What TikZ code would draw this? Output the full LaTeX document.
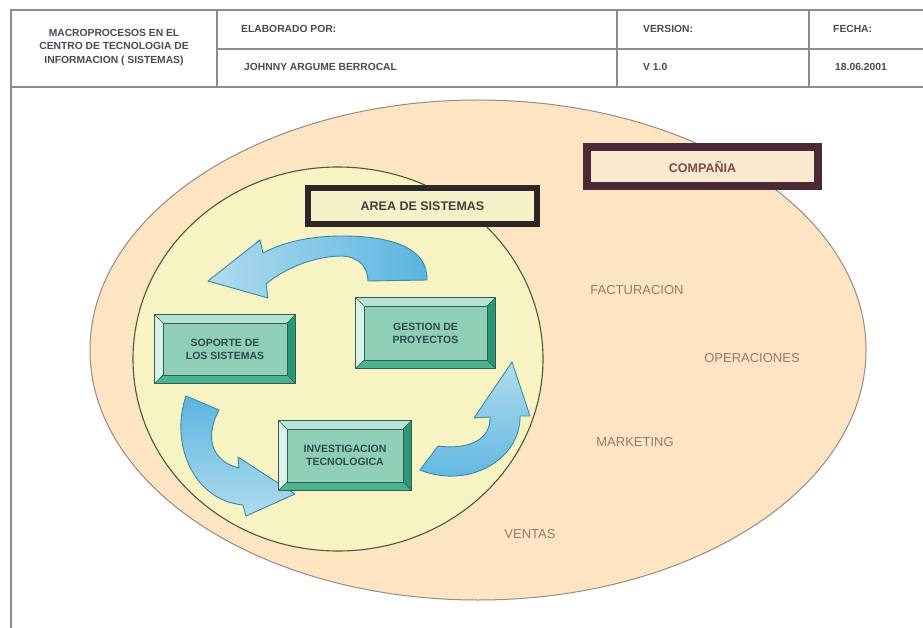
\documentclass[tikz,border=0pt]{standalone}
\usepackage{fontspec}
\setmainfont{Liberation Sans}
\usetikzlibrary{calc}

\definecolor{gridgray}{HTML}{8C8C8C}
\definecolor{hdrtext}{HTML}{4A4A58}
\definecolor{peach}{HTML}{FDE4C2}
\definecolor{peachline}{HTML}{9A8A80}
\definecolor{paleyellow}{HTML}{F7F3C2}
\definecolor{olive}{HTML}{4D5A3A}
\definecolor{labelbrown}{HTML}{A27862}
\definecolor{areaborder}{HTML}{2E2626}
\definecolor{areafill}{HTML}{F6F1C8}
\definecolor{compborder}{HTML}{4B2A36}
\definecolor{compfill}{HTML}{FBE9CF}
\definecolor{comptext}{HTML}{7E4A4A}
\definecolor{tealface}{HTML}{8FCFB6}
\definecolor{bevtop}{HTML}{B6E4D4}
\definecolor{bevleft}{HTML}{DAF2EA}
\definecolor{bevright}{HTML}{2A9878}
\definecolor{bevbottom}{HTML}{4BB392}
\definecolor{tealline}{HTML}{2F5F50}
\definecolor{tealtext}{HTML}{304850}
\definecolor{arrowlight}{HTML}{B0DCEE}
\definecolor{arrowdark}{HTML}{5AB4E0}
\definecolor{arrowline}{HTML}{3A8AA0}

% bevelled frame drawn around a named rectangular node
\newcommand\bevelframe[1]{%
  \fill[bevtop] (#1.north west) -- (#1.north east) -- ($(#1.north east)+(-8,8)$) -- ($(#1.north west)+(8,8)$) -- cycle;
  \fill[bevleft] (#1.north west) -- (#1.south west) -- ($(#1.south west)+(8,-8)$) -- ($(#1.north west)+(8,8)$) -- cycle;
  \fill[bevright] (#1.north east) -- (#1.south east) -- ($(#1.south east)+(-8,-8)$) -- ($(#1.north east)+(-8,8)$) -- cycle;
  \fill[bevbottom] (#1.south west) -- (#1.south east) -- ($(#1.south east)+(-8,-8)$) -- ($(#1.south west)+(8,-8)$) -- cycle;
  \draw[tealline, line width=0.8pt] (#1.north west) rectangle (#1.south east);
  \draw[tealline, line width=0.6pt] ($(#1.north west)+(8,8)$) rectangle ($(#1.south east)+(-8,-8)$);
  \draw[tealline, line width=0.5pt] (#1.north west) -- ($(#1.north west)+(8,8)$)
     (#1.north east) -- ($(#1.north east)+(-8,8)$)
     (#1.south east) -- ($(#1.south east)+(-8,-8)$)
     (#1.south west) -- ($(#1.south west)+(8,-8)$);
}

\begin{document}
\begin{tikzpicture}[x=1pt, y=-1pt,
  gridline/.style={draw=gridgray, line width=1.3pt},
  hdr/.style={font=\fontsize{10.3}{13.5}\selectfont\bfseries, text=hdrtext, inner sep=0pt},
  zonelabel/.style={font=\fontsize{13}{15}\selectfont, text=labelbrown, inner sep=0pt},
  tealbox/.style={fill=tealface, inner sep=0pt, align=center,
    font=\fontsize{10.5}{13}\selectfont\bfseries, text=tealtext},
  cyclearrow/.style={draw=arrowline, line width=0.9pt, line join=round}]

\useasboundingbox (0,0) rectangle (923,628);
\fill[white] (0,0) rectangle (923,628);

% header grid
\draw[gridline] (11,628) -- (11,10) -- (923,10);
\draw[gridline] (11,87) -- (923,87);
\draw[gridline] (217,10) -- (217,87);
\draw[gridline] (617,10) -- (617,87);
\draw[gridline] (809,10) -- (809,87);
\draw[gridline] (217,49) -- (923,49);

% header texts
\node[hdr, align=center] (titulo) at (114,47) {MACROPROCESOS EN EL\\CENTRO DE TECNOLOGIA DE\\INFORMACION ( SISTEMAS)};
\node[hdr, anchor=west] (elab) at (241,29) {ELABORADO POR:};
\node[hdr, anchor=west] (autor) at (244,67) {JOHNNY ARGUME BERROCAL};
\node[hdr, anchor=west] (version) at (643,29) {VERSION:};
\node[hdr, anchor=west] (vernum) at (643,67) {V 1.0};
\node[hdr, anchor=west] (fecha) at (833,29) {FECHA:};
\node[hdr, anchor=west] (fechaval) at (835,67) {18.06.2001};

% company and systems area
\draw[fill=peach, draw=peachline, line width=1pt] (478,350) ellipse[x radius=388, y radius=250];
\draw[fill=paleyellow, draw=olive, line width=1.1pt] (338,359) ellipse[x radius=205, y radius=192];

% zone labels
\node[zonelabel] (fact) at (637,290) {FACTURACION};
\node[zonelabel] (oper) at (752,358) {OPERACIONES};
\node[zonelabel] (mark) at (635,442) {MARKETING};
\node[zonelabel] (vent) at (530,534) {VENTAS};

% title boxes
\node[draw=areaborder, line width=6pt, fill=areafill, minimum width=229pt, minimum height=36pt,
  inner sep=0pt, font=\fontsize{12.5}{14}\selectfont\bfseries, text=black!75] (area) at (422.5,206) {AREA DE SISTEMAS};
\node[draw=compborder, line width=8pt, fill=compfill, minimum width=231pt, minimum height=39pt,
  inner sep=0pt, font=\fontsize{12.5}{14}\selectfont\bfseries, text=comptext] (compania) at (702.5,166.5) {COMPAÑIA};

% cycle arrows
\path[cyclearrow, left color=arrowlight, right color=arrowdark]
  (427,280) .. controls (428,248) and (392,236) .. (342,236)
  .. controls (305,236) and (280,244) .. (263,253)
  -- (260,240) -- (208,281) -- (268,298) -- (266,284)
  .. controls (285,268) and (315,256) .. (342,256)
  .. controls (360,257) and (368,268) .. (368,281) -- cycle;
\path[cyclearrow, top color=arrowdark, bottom color=arrowlight]
  (186,396) .. controls (170,442) and (192,500) .. (243,505)
  -- (246,516) -- (295,494) -- (238,457) -- (239,468)
  .. controls (214,462) and (203,440) .. (219,410) -- cycle;
\path[cyclearrow, top color=arrowlight, bottom color=arrowdark]
  (420,470) .. controls (470,490) and (521,458) .. (520,416)
  -- (530,416) -- (512,362) -- (474,418) -- (490,417)
  .. controls (491,440) and (468,450) .. (438,446) -- cycle;

% process boxes
\node[tealbox, minimum width=140pt, minimum height=68pt] (soporte) at (225,349) {SOPORTE DE\\LOS SISTEMAS};
\bevelframe{soporte}
\node[tealbox, minimum width=139pt, minimum height=70pt] (gestion) at (425.5,333) {GESTION DE\\PROYECTOS};
\bevelframe{gestion}
\node[tealbox, minimum width=132pt, minimum height=69pt] (invest) at (345,455.5) {INVESTIGACION\\TECNOLOGICA};
\bevelframe{invest}

\end{tikzpicture}
\end{document}
